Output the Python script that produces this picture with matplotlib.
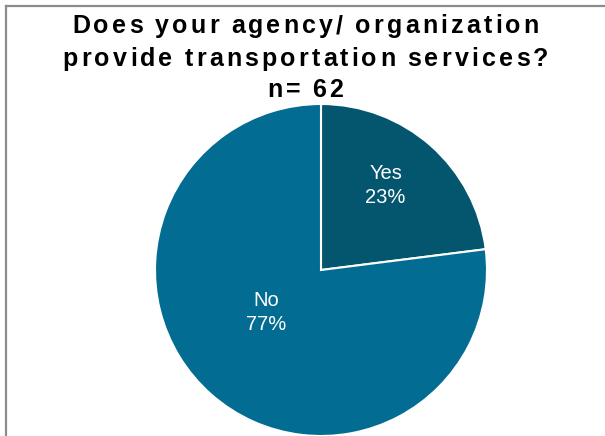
import numpy as np
import matplotlib.pyplot as plt
from matplotlib.lines import Line2D

# data
categories = ["Yes", "No"]
shares = [23, 77]
n_total = 62
title_lines = ["Does your agency/ organization",
               "provide transportation services?",
               "n= " + str(n_total)]

# styling
colors = ["#04566f", "#036c92"]
label_r = [0.64, 0.42]
label_shift = [4, -11]   # degrees away from the wedge middle
title_base = [33, 66, 97]  # baselines in px from the top
title_size = 18
tracking = 3.2          # px between characters of the title

fig = plt.figure(figsize=(6.05, 4.36), dpi=100)
fig.patch.set_facecolor("white")

# frame (only the top and left edges show in the crop)
fig.add_artist(Line2D([5.5 / 605, 1], [1 - 6.5 / 436] * 2, transform=fig.transFigure,
                      color="#8c8c8c", lw=1.6))
fig.add_artist(Line2D([5.5 / 605] * 2, [0, 1 - 6.5 / 436], transform=fig.transFigure,
                      color="#8c8c8c", lw=1.6))

ax = fig.add_axes([155 / 605, 0.0, 332 / 605, 332 / 436])
wedges, _ = ax.pie(shares, colors=colors, startangle=90, counterclock=False,
                   wedgeprops=dict(edgecolor="white", linewidth=1.5))
ax.set_xlim(-1, 1)
ax.set_ylim(-1, 1)
ax.set_aspect("equal")
ax.axis("off")

for w, cat, val, r, sh in zip(wedges, categories, shares, label_r, label_shift):
    mid = np.deg2rad((w.theta1 + w.theta2) / 2 + sh)
    ax.text(r * np.cos(mid), r * np.sin(mid), f"{cat}\n{val}%", ha="center", va="center",
            color="white", fontsize=14.5, family="Liberation Sans", linespacing=1.3)

# title drawn character by character to reproduce the wide letter spacing
fig.canvas.draw()
renderer = fig.canvas.get_renderer()
fw = fig.bbox.width
fh = fig.bbox.height
for line, base in zip(title_lines, title_base):
    widths = []
    for ch in line:
        t = fig.text(0, 0, ch if ch != " " else "a", fontsize=title_size, fontweight="bold",
                     family="Liberation Sans")
        bb = t.get_window_extent(renderer)
        widths.append(bb.width if ch != " " else bb.width * 0.4)
        t.remove()
    total = sum(widths) + tracking * (len(line) - 1)
    x = fw * 0.505 - total / 2
    for ch, wd in zip(line, widths):
        if ch != " ":
            fig.text(x / fw, 1 - base / fh, ch, fontsize=title_size, fontweight="bold",
                     family="Liberation Sans", ha="left", va="baseline", color="black")
        x += wd + tracking

fig.savefig("out.png", dpi=100)
